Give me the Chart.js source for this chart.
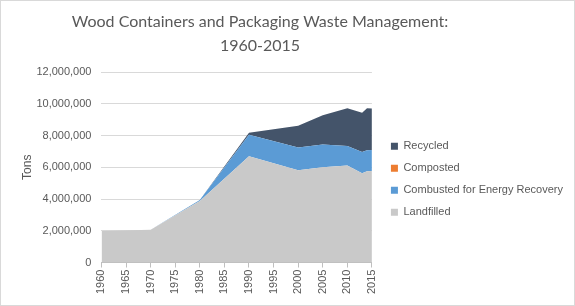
<!DOCTYPE html>
<html>
<head>
<meta charset="utf-8">
<script src="https://cdn.jsdelivr.net/npm/chart.js@4.4.1/dist/chart.umd.min.js"></script>
<style>
html,body{margin:0;padding:0;background:#fff;}
#wrap{width:575px;height:306px;position:relative;}
</style>
</head>
<body>
<div id="wrap"><canvas id="c" width="575" height="306"></canvas></div>
<script>
const years = [1960, 1970, 1980, 1990, 2000, 2005, 2010, 2013, 2014, 2015];
const landfilled = [1990000, 2070000, 3880000, 6700000, 5810000, 6000000, 6110000, 5630000, 5750000, 5760000];
const combusted = [0, 0, 60000, 1340000, 1430000, 1440000, 1230000, 1330000, 1320000, 1320000];
const composted = [0, 0, 0, 0, 0, 0, 0, 0, 0, 0];
const recycled = [0, 0, 0, 130000, 1370000, 1830000, 2370000, 2480000, 2640000, 2620000];
const seriesNames = ['Landfilled', 'Combusted for Energy Recovery', 'Composted', 'Recycled'];
const yTicks = [0, 2000000, 4000000, 6000000, 8000000, 10000000, 12000000];

const colors = ['#C9C9C9', '#5B9BD5', '#ED7D31', '#44546A'];
const allSeries = [landfilled, combusted, composted, recycled];

const datasets = allSeries.map((arr, i) => ({
  label: seriesNames[i],
  data: years.map((yr, j) => ({x: yr, y: arr[j]})),
  backgroundColor: colors[i],
  borderColor: colors[i],
  borderWidth: 0,
  pointRadius: 0,
  tension: 0,
  fill: i === 0 ? 'origin' : '-1'
}));

const layoutPlugin = {
  id: 'layoutTweaks',
  afterLayout(chart) {
    const t = chart.titleBlock;
    if (t) { t.left = 0; t.right = 520; t.width = 520; }
    const l = chart.legend;
    if (l) { l.left += 8; l.right += 8; l.top += 12; l.bottom += 12; }
  },
  afterDraw(chart) {
    const ctx = chart.ctx;
    ctx.save();
    ctx.strokeStyle = '#D9D9D9';
    ctx.lineWidth = 1;
    ctx.strokeRect(0.5, 0.5, chart.width - 1, chart.height - 1);
    ctx.restore();
  }
};

const txt = '#595959';
new Chart(document.getElementById('c'), {
  type: 'line',
  data: { datasets },
  plugins: [layoutPlugin],
  options: {
    responsive: false,
    animation: false,
    events: [],
    layout: { padding: { left: 20, right: 10, top: 0, bottom: 10 } },
    plugins: {
      title: {
        display: true,
        text: ['Wood Containers and Packaging Waste Management:', '1960-2015'],
        color: txt,
        font: { family: 'Lato', size: 16, weight: 'normal', lineHeight: 1.5 },
        padding: { top: 10, bottom: 14 }
      },
      legend: {
        position: 'right',
        fullSize: false,
        reverse: true,
        maxWidth: 200,
        labels: {
          boxWidth: 7,
          boxHeight: 7,
          color: txt,
          font: { family: 'Liberation Sans', size: 11 },
          padding: 11
        }
      },
      tooltip: { enabled: false }
    },
    scales: {
      x: {
        type: 'linear',
        min: 1960,
        max: 2015,
        ticks: {
          stepSize: 5,
          minRotation: 90,
          maxRotation: 90,
          color: txt,
          font: { family: 'Liberation Sans', size: 11 },
          padding: 2,
          callback: v => String(v)
        },
        grid: { drawOnChartArea: false, drawTicks: true, tickLength: 5, color: '#BFBFBF' },
        border: { color: '#BFBFBF' }
      },
      y: {
        stacked: true,
        min: 0,
        max: 12000000,
        afterBuildTicks: axis => { axis.ticks = yTicks.map(v => ({ value: v })); },
        ticks: {
          color: txt,
          font: { family: 'Liberation Sans', size: 11 },
          padding: 10,
          callback: v => Number(v).toLocaleString('en-US')
        },
        grid: { color: '#D9D9D9', drawTicks: false },
        border: { display: false },
        title: {
          display: true,
          text: 'Tons',
          color: txt,
          font: { family: 'Liberation Sans', size: 12 },
          padding: { top: 0, bottom: -8 }
        }
      }
    }
  }
});
</script>
</body>
</html>
